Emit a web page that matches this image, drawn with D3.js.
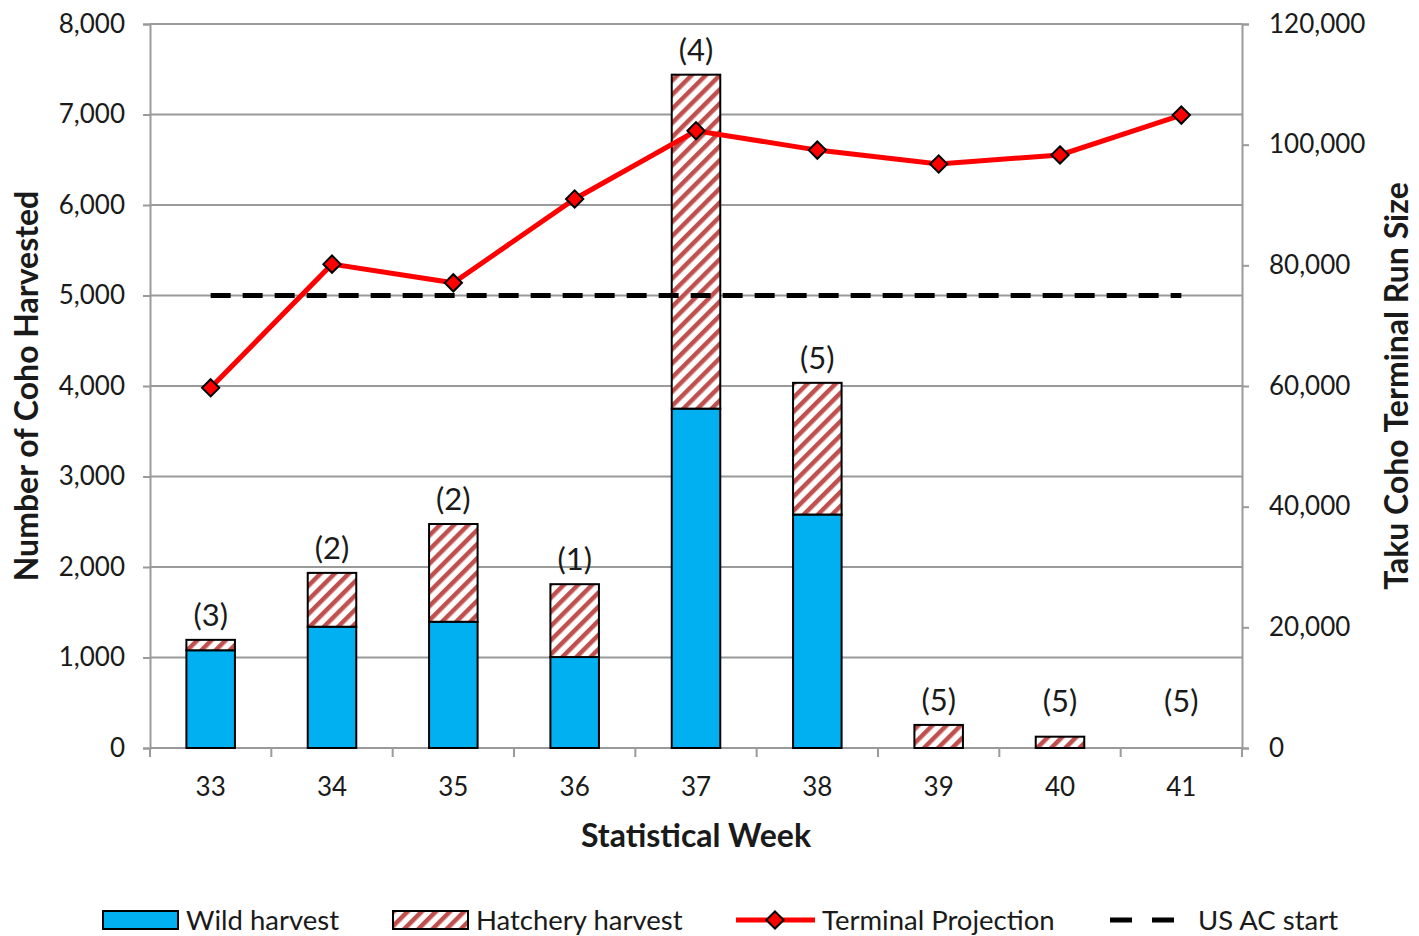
<!DOCTYPE html>
<html>
<head>
<meta charset="utf-8">
<script src="https://cdn.jsdelivr.net/npm/d3@7"></script>
<style>
  body { margin: 0; background: white; }
  text { font-family: Lato, "Noto Sans", sans-serif; fill: #1a1a1a; }
</style>
</head>
<body>
<div id="chart"></div>
<script>
// data
const weeks = [33, 34, 35, 36, 37, 38, 39, 40, 41];
const wild = [1080, 1340, 1395, 1005, 3750, 2580, 0, 0, 0];
const hatchery = [115, 595, 1080, 805, 3690, 1455, 255, 125, 0];
const projection = [59700, 80200, 77100, 91000, 102300, 99100, 96800, 98300, 104900];
const labels = ["(3)", "(2)", "(2)", "(1)", "(4)", "(5)", "(5)", "(5)", "(5)"];
const usAcStart = 5000;
const leftTicks = [0, 1000, 2000, 3000, 4000, 5000, 6000, 7000, 8000];
const rightTicks = [0, 20000, 40000, 60000, 80000, 100000, 120000];

// config
const width = 1419;
const height = 936;
const plotLeft = 150, plotRight = 1242, plotTop = 24, plotBottom = 748;

const x = d3.scaleBand().domain(weeks).range([plotLeft, plotRight]).paddingInner(0.6).paddingOuter(0.3);
const y = d3.scaleLinear().domain([0, 8000]).range([plotBottom, plotTop]);
const y2 = d3.scaleLinear().domain([0, 120000]).range([plotBottom, plotTop]);
const fmt = d3.format(",");
const cx = d => x(d) + x.bandwidth() / 2;

const svg = d3.select("#chart").append("svg")
  .attr("width", width).attr("height", height);

const defs = svg.append("defs");
const pat = defs.append("pattern")
  .attr("id", "hatch").attr("patternUnits", "userSpaceOnUse")
  .attr("width", 10).attr("height", 10)
  .attr("patternTransform", "rotate(45)");
pat.append("rect").attr("width", 10).attr("height", 10).attr("fill", "white");
pat.append("rect").attr("width", 4.5).attr("height", 10).attr("fill", "#c0504d");

// grid
svg.append("g").selectAll("line")
  .data(leftTicks.slice(1))
  .enter().append("line")
  .attr("x1", plotLeft).attr("x2", plotRight)
  .attr("y1", d => y(d)).attr("y2", d => y(d))
  .attr("stroke", "#9a9a9a").attr("stroke-width", 2);

// axes
const axisLeft = svg.append("g").attr("transform", `translate(${plotLeft},0)`)
  .call(d3.axisLeft(y).tickValues(leftTicks).tickFormat(fmt).tickSize(7).tickPadding(18));
const axisRight = svg.append("g").attr("transform", `translate(${plotRight},0)`)
  .call(d3.axisRight(y2).tickValues(rightTicks).tickFormat(fmt).tickSize(7).tickPadding(20));
const axisBottom = svg.append("g").attr("transform", `translate(0,${plotBottom})`)
  .call(d3.axisBottom(x).tickSize(0).tickPadding(30));

[axisLeft, axisRight, axisBottom].forEach(g => {
  g.select(".domain").attr("stroke", "#9a9a9a").attr("stroke-width", 2);
  g.selectAll(".tick line").attr("stroke", "#9a9a9a").attr("stroke-width", 2);
  g.selectAll(".tick text").style("font-size", "26px").attr("fill", "#1a1a1a");
});
axisBottom.select(".domain").attr("d", `M${plotLeft},0H${plotRight}`);

// category boundary ticks
const step = x.step();
axisBottom.selectAll(".bound")
  .data(d3.range(weeks.length + 1))
  .enter().append("line")
  .attr("x1", i => plotLeft + i * step).attr("x2", i => plotLeft + i * step)
  .attr("y1", 0).attr("y2", 9)
  .attr("stroke", "#9a9a9a").attr("stroke-width", 2);

// bars
const bars = svg.append("g");
weeks.forEach((w, i) => {
  if (wild[i] > 0) {
    bars.append("rect")
      .attr("x", x(w)).attr("width", x.bandwidth())
      .attr("y", y(wild[i])).attr("height", y(0) - y(wild[i]))
      .attr("fill", "#00b0f0").attr("stroke", "black").attr("stroke-width", 2);
  }
  if (hatchery[i] > 0) {
    bars.append("rect")
      .attr("x", x(w)).attr("width", x.bandwidth())
      .attr("y", y(wild[i] + hatchery[i])).attr("height", y(wild[i]) - y(wild[i] + hatchery[i]))
      .attr("fill", "url(#hatch)").attr("stroke", "black").attr("stroke-width", 2);
  }
});

// bar labels
svg.append("g").selectAll("text")
  .data(weeks)
  .enter().append("text")
  .attr("x", d => cx(d))
  .attr("y", (d, i) => Math.min(y(wild[i] + hatchery[i]) - 14, y(0) - 36))
  .attr("text-anchor", "middle")
  .style("font-size", "31px")
  .text((d, i) => labels[i]);

// US AC start
svg.append("line")
  .attr("x1", cx(weeks[0])).attr("x2", cx(weeks[weeks.length - 1]))
  .attr("y1", y(usAcStart)).attr("y2", y(usAcStart))
  .attr("stroke", "black").attr("stroke-width", 5)
  .attr("stroke-dasharray", "20,12");

// projection line
const line = d3.line().x((d, i) => cx(weeks[i])).y(d => y2(d));
svg.append("path")
  .datum(projection)
  .attr("d", line)
  .attr("fill", "none").attr("stroke", "#ff0000").attr("stroke-width", 5);

const diamond = d3.symbol().type(d3.symbolDiamond2).size(190);
svg.append("g").selectAll("path")
  .data(projection)
  .enter().append("path")
  .attr("d", diamond)
  .attr("transform", (d, i) => `translate(${cx(weeks[i])},${y2(d)})`)
  .attr("fill", "#ff0000").attr("stroke", "black").attr("stroke-width", 2);

// axis titles
svg.append("text")
  .attr("transform", `translate(38,${(plotTop + plotBottom) / 2}) rotate(-90)`)
  .attr("text-anchor", "middle")
  .style("font-size", "32px").style("font-weight", "bold")
  .text("Number of Coho Harvested");
svg.append("text")
  .attr("transform", `translate(1408,${(plotTop + plotBottom) / 2}) rotate(-90)`)
  .attr("text-anchor", "middle")
  .style("font-size", "32px").style("font-weight", "bold")
  .text("Taku Coho Terminal Run Size");
svg.append("text")
  .attr("x", (plotLeft + plotRight) / 2).attr("y", 847)
  .attr("text-anchor", "middle")
  .style("font-size", "32px").style("font-weight", "bold")
  .text("Statistical Week");

// legend
const lg = svg.append("g").attr("transform", "translate(0,920)");
lg.append("rect").attr("x", 103).attr("y", -9).attr("width", 75).attr("height", 18)
  .attr("fill", "#00b0f0").attr("stroke", "black").attr("stroke-width", 2);
lg.append("text").attr("x", 186).attr("y", 10).style("font-size", "27.5px").text("Wild harvest");
lg.append("rect").attr("x", 393).attr("y", -9).attr("width", 75).attr("height", 18)
  .attr("fill", "url(#hatch)").attr("stroke", "black").attr("stroke-width", 2);
lg.append("text").attr("x", 476).attr("y", 10).style("font-size", "27.5px").text("Hatchery harvest");
lg.append("line").attr("x1", 736).attr("x2", 815).attr("y1", 0).attr("y2", 0)
  .attr("stroke", "#ff0000").attr("stroke-width", 5);
lg.append("path").attr("d", diamond).attr("transform", "translate(775,0)")
  .attr("fill", "#ff0000").attr("stroke", "black").attr("stroke-width", 2);
lg.append("text").attr("x", 822).attr("y", 10).style("font-size", "27.5px").text("Terminal Projection");
lg.append("line").attr("x1", 1110).attr("x2", 1174).attr("y1", 0).attr("y2", 0)
  .attr("stroke", "black").attr("stroke-width", 5).attr("stroke-dasharray", "22,20");
lg.append("text").attr("x", 1198).attr("y", 10).style("font-size", "27.5px").text("US AC start");
</script>
</body>
</html>
